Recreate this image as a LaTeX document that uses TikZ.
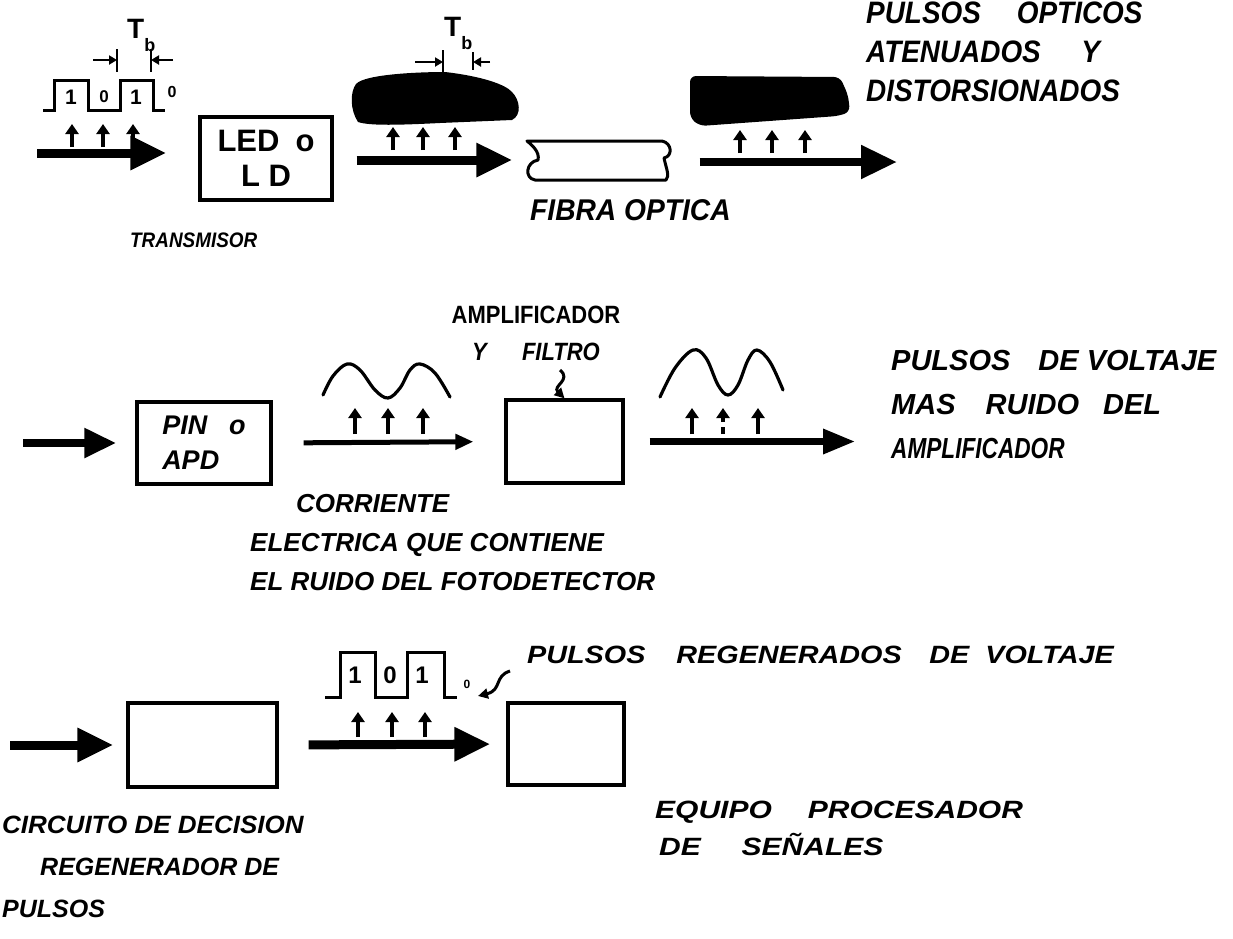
\documentclass[tikz,border=0pt]{standalone}
\usepackage{fontspec}
\setmainfont{Liberation Sans}
\newfontfamily\hand{Liberation Sans}
\usetikzlibrary{arrows.meta}
\newcommand\myfs[2]{\fontsize{#1}{#2}\selectfont}
\newcommand\sx[2]{\scalebox{#1}[1]{#2}}
\begin{document}
\begin{tikzpicture}[x=1pt,y=-1pt,
  box/.style={draw, line width=3.3pt, inner sep=0pt, align=center},
  bigarr/.style={line width=9pt, -{Triangle[length=36pt,width=32pt]}},
  midarr/.style={line width=6.5pt, -{Triangle[length=32pt,width=24pt]}},
  thinarr/.style={line width=5pt, -{Triangle[length=18pt,width=15pt]}},
  uparr/.style={line width=3.8pt, -{Triangle[length=10pt,width=13pt]}},
  dimarr/.style={line width=2.5pt, -{Triangle[length=8pt,width=9pt]}},
  ptr/.style={line width=3pt, -{Triangle[length=10pt,width=10pt]}},
  wave/.style={line width=3.2pt, line cap=round, line join=round},
  pulse/.style={line width=3pt, line join=miter},
  fibre/.style={line width=3pt, line join=round},
  lbl/.style={inner sep=0pt, font=\hand\bfseries\itshape, align=left},
  digit/.style={inner sep=0pt, font=\hand\bfseries}]
\useasboundingbox (0,0) rectangle (1233,938);

% ---------------- Row 1 ----------------
\node[box, minimum width=132pt, minimum height=83pt, font=\hand\bfseries\myfs{31}{35}] (led) at (266,158.5) {LED\hspace{16pt}o\\L D};
\node[inner sep=0pt, minimum width=143pt, minimum height=40pt] (fib) at (596,160) {};
\draw[fibre] (527,141) -- (662,141) .. controls (672,143) and (673,156) .. (664,158)
  .. controls (666,168) and (670,176) .. (666,180) -- (535,180)
  .. controls (524,178) and (526,162) .. (538,160) .. controls (540,152) and (532,145) .. cycle;

\coordinate (in1) at (37,153);
\draw[bigarr, shorten >=32pt] (in1) -- (in1 -| led.west);
\draw[bigarr, shorten <=23pt, shorten >=12pt] (led.east |- fib.west) -- (fib.west);
\coordinate (out1) at (897,162);
\draw[bigarr, line width=8pt, shorten <=32pt] (fib.east |- out1) -- (out1);

% input pulse train
\draw[pulse] (43,110) -- (54,110) -- (54,80) -- (88,80) -- (88,110) -- (120,110) -- (120,80) -- (153,80) -- (153,110) -- (165,110);
\node[digit, font=\hand\bfseries\myfs{21}{21}] (d1) at (71,97) {1};
\node[digit, font=\hand\bfseries\myfs{17}{17}] (d2) at (104,97) {0};
\node[digit, font=\hand\bfseries\myfs{21}{21}] (d3) at (136,97) {1};
\node[digit, font=\hand\bfseries\myfs{16}{16}] (d4) at (172,92) {0};
\foreach \x in {72,103,133} \draw[uparr] (\x,147) -- (\x,124);
% Tb dimension 1
\node[digit, anchor=west, font=\hand\bfseries\myfs{28}{28}] (tb1) at (127,35) {T\raisebox{-13pt}{\myfs{18}{18}b}};
\draw[dimarr] (93,60) -- (117,60);
\draw[line width=2.5pt] (117,49) -- (117,72);
\draw[dimarr] (173,60) -- (151,60);
\draw[line width=2.5pt] (151,49) -- (151,72);

% blob 1
\fill (356,84) .. controls (365,74) and (420,72) .. (445,72) .. controls (480,76) and (505,84) .. (512,92)
  .. controls (520,100) and (522,115) .. (512,120) -- (440,123) .. controls (400,125) and (370,126) .. (358,122)
  .. controls (350,110) and (350,92) .. cycle;
\foreach \x in {393,423,455} \draw[uparr] (\x,150) -- (\x,127);
\node[digit, anchor=west, font=\hand\bfseries\myfs{28}{28}] (tb2) at (444,33) {T\raisebox{-13pt}{\myfs{18}{18}b}};
\draw[dimarr] (415,62) -- (443,62);
\draw[line width=2.5pt] (443,50) -- (443,72);
\draw[dimarr] (490,62) -- (473,62);
\draw[line width=2.5pt] (473,52) -- (473,70);

% blob 2
\fill[rounded corners=6pt] (690,76) -- (840,77) -- (848,95) -- (850,112) -- (838,116) -- (700,126) -- (690,118) -- cycle;
\foreach \x in {740,772,805} \draw[uparr] (\x,153) -- (\x,130);

\node[lbl, anchor=west, font=\hand\bfseries\itshape\myfs{21}{21}] (tx) at (130,240) {\sx{0.9}{TRANSMISOR}};
\node[lbl, anchor=west, font=\hand\bfseries\itshape\myfs{30}{30}] (fo) at (530,210) {\sx{0.94}{FIBRA OPTICA}};
\node[lbl, anchor=north west, font=\hand\bfseries\itshape\myfs{31}{39}] (po) at (866,2)
  {\sx{0.9}{PULSOS\hspace{40pt}OPTICOS}\\\sx{0.9}{ATENUADOS\hspace{45pt}Y}\\\sx{0.9}{DISTORSIONADOS}};

% ---------------- Row 2 ----------------
\node[box, minimum width=134pt, minimum height=82pt, align=left, font=\hand\bfseries\itshape\myfs{27}{35}] (pin) at (204,443) {PIN\hspace{22pt}o\\APD};
\node[box, minimum width=117pt, minimum height=83pt] (amp) at (564.5,441.5) {};
\coordinate (in2) at (23,443);
\draw[bigarr, line width=8pt, -{Triangle[length=32pt,width=28pt]}, shorten >=19pt] (in2) -- (pin.west);
\draw[thinarr, shorten <=31pt, shorten >=31pt] (pin.east) -- (amp.west);
\coordinate (out2) at (855,441.5);
\draw[midarr, shorten <=25pt] (amp.east) -- (out2);

\draw[wave] plot[smooth, tension=0.6] coordinates {(323,395) (333,376) (347,364) (360,370) (375,390) (388,398) (400,388) (410,370) (420,364) (435,373) (450,397)};
\foreach \x in {355,388,423} \draw[uparr] (\x,434) -- (\x,408);
\draw[wave] plot[smooth, tension=0.6] coordinates {(660,397) (675,368) (693,350) (706,358) (718,385) (728,395) (738,385) (748,360) (757,350) (770,362) (783,390)};
\draw[uparr] (692,434) -- (692,408);
\draw[uparr, dash pattern=on 7pt off 5pt] (723,434) -- (723,408);
\draw[uparr] (758,434) -- (758,408);

\node[lbl, align=center, font=\hand\bfseries\myfs{25}{37}] (af) at (536,333)
  {\sx{0.88}{AMPLIFICADOR}\\\itshape\sx{0.88}{Y\hspace{40pt}FILTRO}};
\coordinate (fp) at (560,370);
\draw[ptr] (fp) .. controls (572,380) and (552,386) .. (amp.north);

\node[lbl, anchor=north west, font=\hand\bfseries\itshape\myfs{26}{39}] (cor) at (250,494)
  {\hspace*{46pt}CORRIENTE\\ELECTRICA QUE CONTIENE\\EL RUIDO DEL FOTODETECTOR};
\node[lbl, anchor=north west, font=\hand\bfseries\itshape\myfs{29}{44}] (pv) at (891,350.5)
  {PULSOS\hspace{28pt}DE VOLTAJE\\MAS\hspace{30pt}RUIDO\hspace{24pt}DEL\\\sx{0.78}{AMPLIFICADOR}};

% ---------------- Row 3 ----------------
\node[box, minimum width=149pt, minimum height=84pt] (dec) at (202.5,745) {};
\node[box, minimum width=116pt, minimum height=82pt] (proc) at (566,744) {};
\coordinate (in3) at (10,745);
\draw[bigarr, shorten >=13pt] (in3) -- (dec.west);
\draw[bigarr, shorten <=30pt, shorten >=16pt] (dec.east) -- (proc.west);

\draw[pulse] (325,697) -- (340,697) -- (340,652) -- (375,652) -- (375,697) -- (407,697) -- (407,652) -- (444,652) -- (444,697) -- (457,697);
\node[digit, font=\hand\bfseries\myfs{24}{24}] (e1) at (355,675) {1};
\node[digit, font=\hand\bfseries\myfs{24}{24}] (e2) at (390,675) {0};
\node[digit, font=\hand\bfseries\myfs{24}{24}] (e3) at (422,675) {1};
\node[digit, font=\hand\bfseries\myfs{12}{12}] (e4) at (467,684) {0};
\foreach \x in {358,392,425} \draw[uparr] (\x,737) -- (\x,712);
\coordinate (pp) at (510,671);
\coordinate (pq) at (478,696);
\draw[ptr] (pp) .. controls (494,676) and (502,690) .. (pq);

\node[lbl, anchor=west, font=\hand\bfseries\itshape\myfs{25}{25}] (pr) at (527,655)
  {\sx{1.15}{PULSOS\hspace{27pt}REGENERADOS\hspace{24pt}DE\hspace{14pt}VOLTAJE}};
\node[lbl, anchor=north west, font=\hand\bfseries\itshape\myfs{25}{37}] (eq) at (655,801)
  {\sx{1.2}{EQUIPO\hspace{30pt}PROCESADOR}\\\hspace*{4pt}\sx{1.2}{DE\hspace{34pt}SEÑALES}};
\node[lbl, anchor=north west, font=\hand\bfseries\itshape\myfs{25}{42}] (cd) at (2,816)
  {\sx{1.04}{CIRCUITO DE DECISION}\\\hspace*{38pt}REGENERADOR DE\\PULSOS};
\end{tikzpicture}
\end{document}
